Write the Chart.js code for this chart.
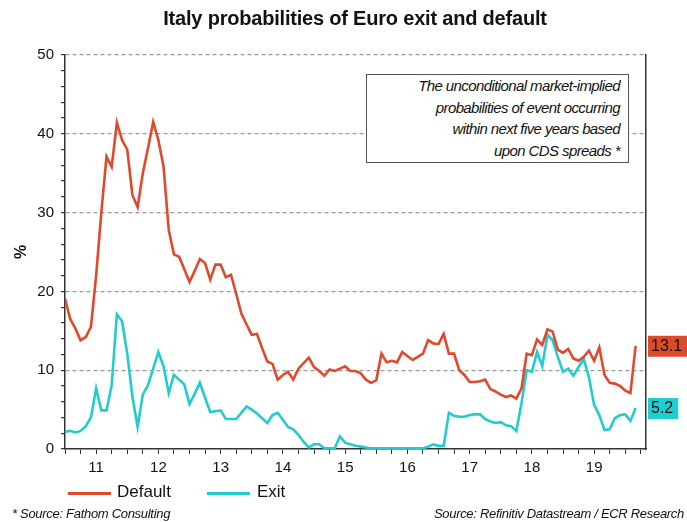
<!DOCTYPE html>
<html>
<head>
<meta charset="utf-8">
<script src="https://cdn.jsdelivr.net/npm/chart.js@4.4.1/dist/chart.umd.min.js"></script>
<style>
  html, body { margin: 0; padding: 0; background: #fff; }
  #wrap { position: relative; width: 687px; height: 522px; font-family: "Liberation Sans", Arial, sans-serif; color: #111; overflow: hidden; }
  #chart { position: absolute; left: 0; top: 0; }
  .title { position: absolute; left: 0; width: 710px; top: 7px; text-align: center; font-weight: bold; font-size: 20px; letter-spacing: -0.2px; }
  .note { position: absolute; left: 366px; top: 74px; width: 261px; height: 87px; border: 1px solid #555; background: #fff;
          font-style: italic; font-size: 15px; line-height: 21.5px; text-align: right; letter-spacing: -0.6px; box-sizing: content-box; }
  .note div { padding-right: 8px; }
  .legend { position: absolute; top: 482px; left: 68px; font-size: 17px; height: 22px; }
  .legend span { position: absolute; white-space: nowrap; }
  .legend .ln { width: 43px; height: 3px; top: 10px; }
  .foot { position: absolute; top: 506px; font-style: italic; font-size: 13px; letter-spacing: -0.3px; white-space: nowrap; }
</style>
</head>
<body>
<div id="wrap">
  <canvas id="chart" width="687" height="522"></canvas>
  <div class="title">Italy probabilities of Euro exit and default</div>
  <div class="note">
    <div>The unconditional market-implied</div>
    <div>probabilities of event occurring</div>
    <div>within next five years based</div>
    <div>upon CDS spreads *</div>
  </div>
  <div class="legend">
    <span class="ln" style="left:0;background:#e0492c"></span>
    <span style="left:49px;top:0">Default</span>
    <span class="ln" style="left:139px;background:#22cccc"></span>
    <span style="left:189px;top:0">Exit</span>
  </div>
  <div class="foot" style="left:12px">* Source: Fathom Consulting</div>
  <div class="foot" style="right:3px">Source: Refinitiv Datastream / ECR Research</div>
</div>
<script>
// monthly observations, Jan 2011 .. Mar 2020
const defaultProb = [
  19.1, 16.5, 15.3, 13.8, 14.2, 15.5, 22.0, 30.0, 37.1, 35.8, 41.4, 39.2,
  38.0, 32.2, 30.7, 35.0, 38.2, 41.5, 39.2, 35.8, 27.8, 24.7, 24.4, 22.8,
  21.2, 22.6, 24.1, 23.6, 21.5, 23.4, 23.4, 21.8, 22.1, 19.7, 17.2, 15.8,
  14.5, 14.6, 12.8, 11.1, 10.8, 8.8, 9.4, 9.8, 8.8, 10.2, 10.9, 11.6,
  10.4, 9.9, 9.3, 10.1, 9.9, 10.2, 10.5, 9.9, 9.9, 9.6, 8.8, 8.4,
  8.7, 12.1, 11.0, 11.2, 11.0, 12.3, 11.8, 11.3, 11.7, 12.1, 13.8, 13.4,
  13.3, 14.6, 12.1, 12.1, 10.0, 9.4, 8.5, 8.5, 8.6, 8.8, 7.6, 7.3,
  6.9, 6.6, 6.8, 6.4, 7.7, 12.1, 11.9, 13.9, 13.2, 15.2, 14.9, 12.6,
  12.2, 12.7, 11.5, 11.2, 11.7, 12.5, 11.2, 12.9, 9.4, 8.4, 8.3, 8.0,
  7.4, 7.1, 13.1
];
const exitProb = [
  2.2, 2.3, 2.1, 2.3, 2.9, 4.0, 7.7, 4.9, 4.9, 8.1, 17.1, 16.2,
  12.1, 6.6, 2.8, 6.9, 8.1, 10.2, 12.3, 10.5, 7.1, 9.4, 8.8, 8.2,
  5.7, 7.0, 8.4, 6.5, 4.7, 4.8, 4.9, 3.8, 3.8, 3.8, 4.6, 5.4,
  5.0, 4.5, 3.9, 3.3, 4.3, 4.6, 3.7, 2.8, 2.5, 1.8, 0.9, 0.2,
  0.6, 0.6, 0.1, 0.1, 0.1, 1.6, 0.8, 0.6, 0.4, 0.3, 0.2, 0.1,
  0.1, 0.1, 0.1, 0.1, 0.1, 0.1, 0.1, 0.1, 0.1, 0.1, 0.3, 0.6,
  0.4, 0.4, 4.6, 4.2, 4.1, 4.1, 4.3, 4.4, 4.4, 3.8, 3.5, 3.3,
  3.4, 3.0, 2.9, 2.3, 5.8, 10.0, 9.8, 12.3, 10.5, 14.5, 13.8, 11.7,
  9.8, 10.2, 9.3, 10.4, 11.4, 9.1, 5.6, 4.3, 2.4, 2.5, 3.9, 4.3,
  4.4, 3.6, 5.2
];
const yearLabels = ['11', '12', '13', '14', '15', '16', '17', '18', '19'];
const yMax = 50;

const red = '#e0492c';
const cyan = '#22cccc';

function toPoints(values) {
  return values.map((v, i) => ({ x: i, y: v }));
}

// boxes with the latest value at the right edge
const endLabels = {
  id: 'endLabels',
  afterDatasetsDraw(chart) {
    const ctx = chart.ctx;
    const area = chart.chartArea;
    chart.data.datasets.forEach((ds, i) => {
      const meta = chart.getDatasetMeta(i);
      const last = meta.data[meta.data.length - 1];
      const txt = ds.data[ds.data.length - 1].y.toFixed(1);
      ctx.save();
      ctx.font = '16px "Liberation Sans", Arial, sans-serif';
      const w = ctx.measureText(txt).width + 8;
      ctx.fillStyle = ds.labelBox;
      ctx.fillRect(area.right + 2, last.y - 10, w, 21);
      ctx.fillStyle = '#111';
      ctx.textBaseline = 'middle';
      ctx.fillText(txt, area.right + 5, last.y + 1);
      ctx.restore();
    });
  }
};

new Chart(document.getElementById('chart'), {
  type: 'line',
  data: {
    datasets: [{
      label: 'Default',
      data: toPoints(defaultProb),
      borderColor: red,
      labelBox: '#db4a2b',
      borderWidth: 2.6,
      pointRadius: 0,
      tension: 0
    }, {
      label: 'Exit',
      data: toPoints(exitProb),
      borderColor: cyan,
      labelBox: '#1fcfcf',
      borderWidth: 2.6,
      pointRadius: 0,
      tension: 0
    }]
  },
  options: {
    responsive: false,
    animation: false,
    layout: { padding: { left: 0, right: 0, top: 55, bottom: 43 } },
    plugins: {
      legend: { display: false },
      tooltip: { enabled: false }
    },
    scales: {
      x: {
        type: 'linear',
        min: 0,
        max: 112,
        afterBuildTicks(scale) {
          const t = [];
          for (let v = 0; v <= 111; v += 3) t.push({ value: v });
          scale.ticks = t;
        },
        afterFit(scale) { scale.height = 30; },
        ticks: {
          autoSkip: false,
          maxRotation: 0,
          padding: 5,
          color: '#111',
          font: { size: 15, family: '"Liberation Sans", Arial, sans-serif' },
          callback: v => ((v - 6) % 12 === 0 ? yearLabels[(v - 6) / 12] : '')
        },
        grid: { drawOnChartArea: false, tickLength: 5, tickColor: '#333' },
        border: { color: '#333', width: 1.5 }
      },
      y: {
        min: 0,
        max: yMax,
        afterFit(scale) { scale.width = 65; },
        ticks: {
          stepSize: 2,
          autoSkip: false,
          padding: 7,
          color: '#111',
          font: { size: 15, family: '"Liberation Sans", Arial, sans-serif' },
          callback: v => (v % 10 === 0 ? v : '')
        },
        grid: {
          color: c => (c.tick.value % 10 === 0 && c.tick.value > 0 ? '#9a9a9a' : 'rgba(0,0,0,0)'),
          tickColor: '#333',
          tickLength: 4,
          lineWidth: 1.2
        },
        border: { color: '#333', width: 1.5, dash: [4, 3] },
        title: {
          display: true,
          text: '%',
          color: '#111',
          padding: { top: 12, bottom: 0 },
          font: { size: 16, weight: 'bold', family: '"Liberation Sans", Arial, sans-serif' }
        }
      },
      y2: {
        position: 'right',
        min: 0,
        max: yMax,
        afterFit(scale) { scale.width = 41; },
        ticks: { display: false },
        grid: { drawOnChartArea: false, drawTicks: false },
        border: { color: '#333', width: 1.5 }
      }
    }
  },
  plugins: [endLabels]
});
</script>
</body>
</html>
